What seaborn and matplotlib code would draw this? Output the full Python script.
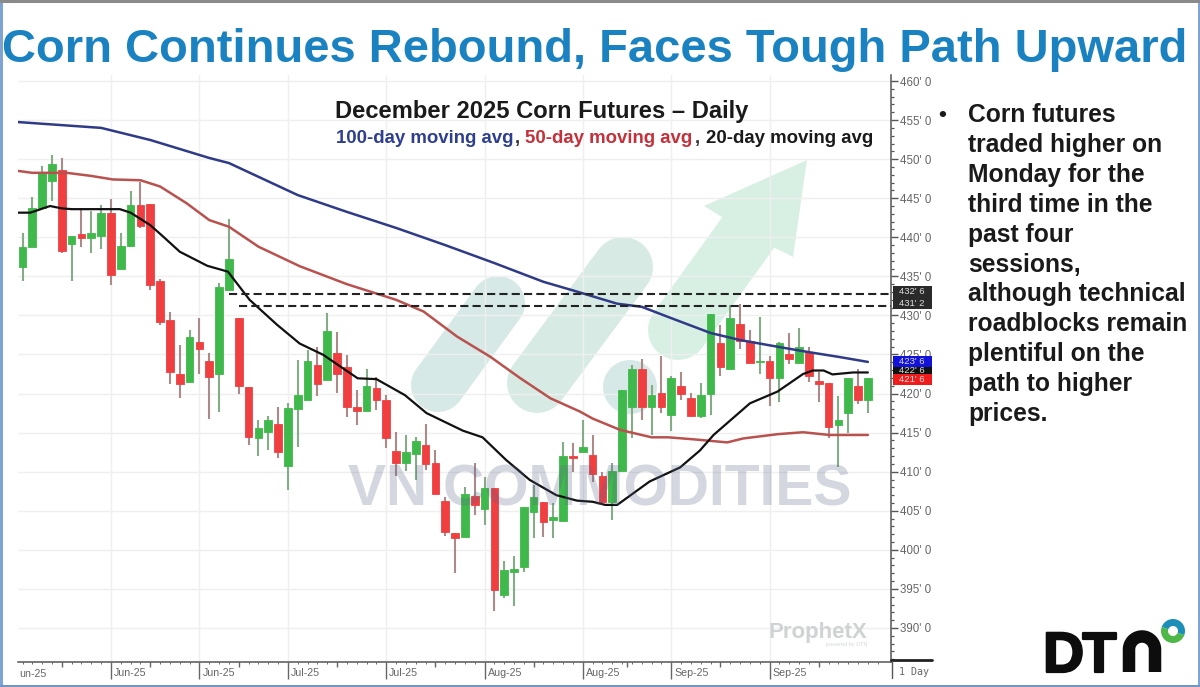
import numpy as np
import pandas as pd
import matplotlib
matplotlib.use("Agg")
import matplotlib.pyplot as plt
import matplotlib.patheffects as pe
from matplotlib.patches import Rectangle, Polygon, Circle, Wedge
from matplotlib.ticker import FixedLocator
from matplotlib.transforms import ScaledTranslation
import seaborn as sns

# ---------------- data (price in cents/bu) ----------------
direction = ("GGGGRGRGGRGGRRRRRGRRGGRRGGRGG"
             "GRGRRRGRRRGGRRRRGRGRGGGGRGGRG"
             "RRGGGRGRGRRGGRGRRGRGRGRRRGGRG")
body_top = [438.7,443.8,448.2,449.4,448.6,440.1,440.4,440.55,443.15,443.15,438.9,444.15,444.15,444.2,434.35,429.4,422.45,427.2,426.65,424.15,433.7,437.2,429.7,420.9,415.55,416.6,416.1,418.2,419.8,
            424.2,423.65,427.95,425.15,423.4,418.25,421.0,420.65,419.2,412.7,412.5,413.95,413.4,411.15,406.2,402.1,407.15,406.95,407.9,407.9,397.45,397.5,405.45,406.75,406.15,404.2,411.95,412.0,
            413.2,412.2,409.45,410.15,420.45,423.2,423.2,419.8,420.1,421.95,420.95,419.4,419.85,430.15,426.45,429.7,428.9,426.75,424.2,424.2,426.45,425.1,425.9,425.3,421.65,421.4,416.6,421.95,420.95,421.95]
body_bot = [436.15,438.7,443.7,447.25,438.25,439.2,439.95,439.95,440.2,435.15,435.95,438.9,441.45,433.9,429.2,422.7,421.2,421.5,425.65,422.15,422.5,433.2,420.95,414.5,414.3,415.1,412.5,410.7,418.0,
            419.2,421.2,421.75,422.5,418.25,417.75,417.75,419.2,414.3,411.15,411.15,412.25,411.0,407.2,402.25,401.5,401.7,405.75,405.2,394.8,394.2,397.2,397.85,404.8,403.5,403.8,403.75,411.75,
            412.5,409.7,406.15,406.15,410.15,418.25,418.25,418.25,418.25,417.2,419.9,417.15,417.15,419.9,423.35,423.2,426.75,423.95,424.1,421.95,421.95,424.45,423.95,422.25,421.2,415.7,416.0,417.5,419.15,419.15]
high = [440.6,445.1,449.1,450.5,450.1,440.1,443.8,443.4,444.1,444.85,440.6,445.95,447.1,444.2,434.6,430.5,426.2,428.15,429.7,425.15,434.1,442.4,429.7,420.9,416.6,417.1,418.25,418.85,424.3,
        425.6,425.9,430.35,427.85,424.95,420.4,423.1,422.1,419.8,415.1,414.7,414.4,416.1,412.8,406.8,402.1,408.0,411.15,409.35,407.9,398.6,399.2,405.45,408.3,406.15,405.95,413.85,413.7,
        416.6,414.7,410.0,411.15,420.45,423.65,424.4,421.1,424.8,422.25,422.7,420.05,421.4,430.15,428.8,431.35,431.45,428.15,429.85,424.8,426.65,427.7,428.35,426.0,422.7,421.4,419.7,421.95,423.1,421.95]
low = [434.45,438.7,443.7,444.7,438.0,434.45,438.7,438.0,438.5,433.9,435.95,438.9,441.15,433.25,428.8,421.2,419.4,421.5,422.5,416.7,417.7,433.2,419.95,413.4,412.0,412.8,411.7,407.65,413.2,
       419.2,419.7,421.75,420.1,417.0,416.0,417.75,417.9,413.0,409.45,410.1,408.95,410.2,407.2,401.8,397.0,401.7,404.45,403.2,392.2,393.8,392.75,397.2,401.5,401.7,401.5,403.75,410.0,
       412.5,408.7,405.95,403.8,410.15,414.3,416.6,414.7,417.5,415.15,419.2,417.15,416.85,417.25,422.25,423.2,425.7,423.9,422.5,418.4,418.95,423.8,423.95,421.5,418.95,414.35,410.65,415.0,418.7,417.5]

ma100_idx = [-0.5,8,13,19,21,28,33,38,43,48,53,56,60.5,63,66,70,73,77,80,83,86]
ma100_val = [454.75,454.0,452.45,450.15,449.5,445.4,443.25,441.2,439.0,436.7,434.3,433.2,431.5,431.1,429.65,427.75,426.85,425.95,425.3,424.7,424.05]

ma50_idx = [-0.5,1,4.5,7,9.2,12,14,16.7,19,21,24,28.2,33,38,40.8,44.2,47.6,50.6,53.7,56.7,58,60.8,64,65.7,68.2,71.7,73.3,76.8,79.4,82.1,86]
ma50_val = [448.5,448.25,448.25,447.85,447.4,447.3,446.5,444.35,442.2,441.35,438.8,436.3,434.0,432.0,430.5,427.3,424.7,422.0,419.4,417.7,416.8,415.35,414.4,414.4,414.15,413.75,414.25,414.8,415.05,414.7,414.7]

ma20_idx = [-0.5,0.8,2.8,4,5,7.2,9.9,11,13,14.3,16,18.8,20.9,23.1,25.9,28.2,30.6,34.1,36,38.9,41.1,44.8,46.8,49.2,51.6,54.3,56.4,58,59.3,60.5,63.8,66.9,68.9,70.3,74,76.8,79.4,80.4,81.5,82.4,84.5,86]
ma20_val = [443.15,443.15,444.0,443.7,443.6,443.6,443.6,443.15,441.55,440.1,438.15,436.35,435.6,432.0,428.8,426.4,424.95,421.95,421.85,419.8,417.5,415.25,414.4,411.5,408.95,407.0,406.3,406.15,405.75,405.75,408.75,410.55,412.7,414.7,418.75,420.25,422.5,422.95,422.95,422.45,422.7,422.7]

resistance_levels = [432.75, 431.25]
resistance_start = [21, 22]
price_tags = ["432' 6", "431' 2", "423' 6", "422' 6", "421' 6"]
date_ticks = [9, 18, 27, 37, 47, 57, 66, 76]
date_labels = ["Jun-25", "Jun-25", "Jul-25", "Jul-25", "Aug-25", "Aug-25", "Sep-25", "Sep-25"]
bullet_lines = ["Corn futures", "traded higher on", "Monday for the", "third time in the", "past four",
                "sessions,", "although technical", "roadblocks remain", "plentiful on the",
                "path to higher", "prices."]
title = "Corn Continues Rebound, Faces Tough Path Upward"
subtitle = "December 2025 Corn Futures \u2013 Daily"

# ---------------- theme ----------------
sns.set_theme(style="white")
plt.rcParams["font.family"] = ["Liberation Sans", "DejaVu Sans"]
W, H = 1200, 687
fig = plt.figure(figsize=(12, 6.87), dpi=100, facecolor="white")
PT = 0.72  # points per pixel at dpi 100

# full-figure layers in pixel units
def layer(z):
    a = fig.add_axes([0, 0, 1, 1], zorder=z)
    a.set_xlim(0, W); a.set_ylim(H, 0); a.axis("off"); a.patch.set_alpha(0)
    return a
bg = layer(0)
fg = layer(5)

# background logo shapes (watermark)
TEAL, MINT = "#d6e9e6", "#d8f0e4"
bg.plot([438, 498], [385, 303], color=TEAL, lw=54*PT, solid_capstyle="round")
bg.plot([537, 623], [383, 267], color="#d7ebe4", lw=60*PT, solid_capstyle="round")
bg.add_patch(Circle((630, 387), 27, color=TEAL, lw=0))
bg.plot([678, 750], [330, 230], color=MINT, lw=60*PT, solid_capstyle="round")
bg.add_patch(Polygon([(807, 160), (704, 206), (722, 217), (775, 248), (793, 257)], closed=True, color=MINT, lw=0))

# chart axes
L, R, T, B = 18, 891, 75, 662
ax = fig.add_axes([L/W, 1-B/H, (R-L)/W, (B-T)/H], zorder=2)
ax.patch.set_alpha(0)

candles = pd.DataFrame({"i": np.arange(len(direction)), "top": body_top, "bot": body_bot,
                        "high": high, "low": low, "dir": list(direction)})
up = candles[candles["dir"] == "G"]
dn = candles[candles["dir"] == "R"]

ax.set_yticks(np.arange(390, 461, 5))
ax.set_xticks(date_ticks)
ax.grid(True, axis="both", color="#efefef", lw=1.0, zorder=0)
ax.set_axisbelow(True)

ax.vlines(up["i"], up["low"], up["high"], color="#86ab88", lw=1.5, zorder=3)
ax.vlines(dn["i"], dn["low"], dn["high"], color="#ab8a8a", lw=1.5, zorder=3)
ax.bar(up["i"], up["top"]-up["bot"], bottom=up["bot"], width=0.78, color="#3fb94b", edgecolor="#3fb94b", lw=0.6, zorder=4)
ax.bar(dn["i"], dn["top"]-dn["bot"], bottom=dn["bot"], width=0.78, color="#ef3f41", edgecolor="#ef3f41", lw=0.6, zorder=4)

for idx, val, col, lw in [(ma100_idx, ma100_val, "#2f3b86", 1.8),
                          (ma50_idx, ma50_val, "#b9524f", 1.8),
                          (ma20_idx, ma20_val, "#111111", 1.6)]:
    sns.lineplot(x=idx, y=val, ax=ax, color=col, lw=lw, sort=False, errorbar=None, legend=False, zorder=5)

for lev, st in zip(resistance_levels, resistance_start):
    ax.plot([st, 88.35], [lev, lev], color="#222222", lw=1.5, dashes=(3.9, 2.0), zorder=6)

ax.set_xlim((L-22.5)/9.83, (R-22.5)/9.83)
ax.set_ylim(460-(B-81)/7.814, 460+(81-T)/7.814)
for s in ["top", "left"]:
    ax.spines[s].set_visible(False)
for s in ["right", "bottom"]:
    ax.spines[s].set_color("#555555"); ax.spines[s].set_linewidth(1.1)

ax.yaxis.tick_right()
ax.set_yticklabels([f"{v}' 0" for v in range(390, 461, 5)])
ax.yaxis.set_minor_locator(FixedLocator(np.arange(386, 461, 1)))
ax.tick_params(axis="y", which="major", length=5, width=1, color="#555555", pad=1.5, labelsize=8.3, labelcolor="#666666", right=True)
ax.tick_params(axis="y", which="minor", length=2, width=0.9, color="#555555", right=True)
ax.set_xticklabels(date_labels)
ax.xaxis.set_minor_locator(FixedLocator(np.arange(0, 88, 1)))
ax.tick_params(axis="x", which="major", length=12, width=1, color="#666666", pad=-7.5, labelsize=7.7, labelcolor="#666666", bottom=True)
ax.tick_params(axis="x", which="minor", length=1.5, width=0.7, color="#666666", bottom=True)
for lab in ax.get_xticklabels():
    lab.set_ha("left")
    lab.set_transform(lab.get_transform() + ScaledTranslation(3/100, 0, fig.dpi_scale_trans))
ax.plot([4, 13, 22, 32, 42, 52, 61.5, 71, 81], [0]*9, transform=ax.get_xaxis_transform(), ls="",
        marker=3, ms=3.5, mew=1, color="#666666", clip_on=False, zorder=1)

# titles
bg.text(595, 62, title, color="#1b82c1", fontsize=33.9, fontweight="bold", ha="center", va="baseline")
fg.text(335, 118, subtitle, color="#1a1a1a", fontsize=17.1, fontweight="bold", va="baseline")
fg.text(336, 143, "100-day moving avg", color="#2f3f8f", fontsize=13.4, fontweight="bold", va="baseline")
fg.text(515, 143, ",", color="#333333", fontsize=13.4, fontweight="bold", va="baseline")
fg.text(525, 143, "50-day moving avg", color="#c5303a", fontsize=13.4, fontweight="bold", va="baseline")
fg.text(695, 143, ",", color="#333333", fontsize=13.4, fontweight="bold", va="baseline")
fg.text(706, 143, "20-day moving avg", color="#1a1a1a", fontsize=13.4, fontweight="bold", va="baseline")

# bullet text
fg.text(938, 121, "\u2022", color="#1a1a1a", fontsize=16, fontweight="bold", va="baseline")
for n, line in enumerate(bullet_lines):
    fg.text(968, 122 + n*29.9, line, color="#1a1a1a", fontsize=17.7, fontweight="bold", va="baseline")

# watermark text
fg.text(600, 505, "VN COMMODITIES", color="#5a6488", alpha=0.26, fontsize=41, fontweight="bold", ha="center", va="baseline")
fg.text(768, 638, "ProphetX", color="#cfd3d3", fontsize=16, fontweight="bold", va="baseline")
fg.text(867, 646, "powered by DTN", color="#d5d8d8", fontsize=4, ha="right", va="baseline")

# right side tags
tag_boxes = [(286, 298, "#2a2a2a"), (298, 309, "#2a2a2a"), (356, 367, "#1212d8"), (367, 374, "#111111"), (374, 385, "#ee1c1c")]
for (y0, y1, c) in tag_boxes:
    fg.add_patch(Rectangle((893, y0), 39, y1-y0, color=c, lw=0))
for (y0, y1, c), t in zip(tag_boxes, price_tags):
    fg.text(912, (y0+y1)/2, t, color="#dddddd", fontsize=6.8, ha="center", va="center")

# bottom right corner
fg.plot([891, 932], [660, 660], color="#222222", lw=2)
fg.plot([892, 892], [661, 678], color="#555555", lw=1)
fg.text(899, 675, "1 Day", color="#666666", fontsize=7.2, family="DejaVu Sans Mono", va="baseline")
fg.text(19, 677, "un-25", color="#666666", fontsize=7.7, va="baseline")

# DTN logo
dtn_fx = [pe.withStroke(linewidth=1.6, foreground="#0d0d0d")]
fg.text(1043, 672, "D", color="#0d0d0d", fontsize=41, fontweight="bold", va="baseline", path_effects=dtn_fx)
fg.text(1082, 672, "T", color="#0d0d0d", fontsize=41, fontweight="bold", va="baseline", path_effects=dtn_fx)
th = np.linspace(np.pi, 0, 40)
nx = np.r_[1129, 1142 + 13*np.cos(th), 1155]
ny = np.r_[672, 649.5 - 13*np.sin(th), 672]
fg.plot(nx, ny, color="#0d0d0d", lw=12.5*PT, solid_capstyle="butt", solid_joinstyle="round")
fg.add_patch(Wedge((1173, 631), 12, 200, 380, width=7, color="#1b8fb8", lw=0))
fg.add_patch(Wedge((1173, 631), 12, 20, 200, width=7, color="#4db748", lw=0))

# frame
fg.add_patch(Rectangle((0, 0), 2.5, H, color="#7fa3d3", lw=0))
fg.add_patch(Rectangle((W-2.5, 0), 2.5, H, color="#7fa3d3", lw=0))
fg.add_patch(Rectangle((0, H-2.5), W, 2.5, color="#6f95c9", lw=0))
fg.add_patch(Rectangle((0, 0), W, 3, color="#8a8a8a", lw=0))

fig.savefig("out.png", dpi=100)
